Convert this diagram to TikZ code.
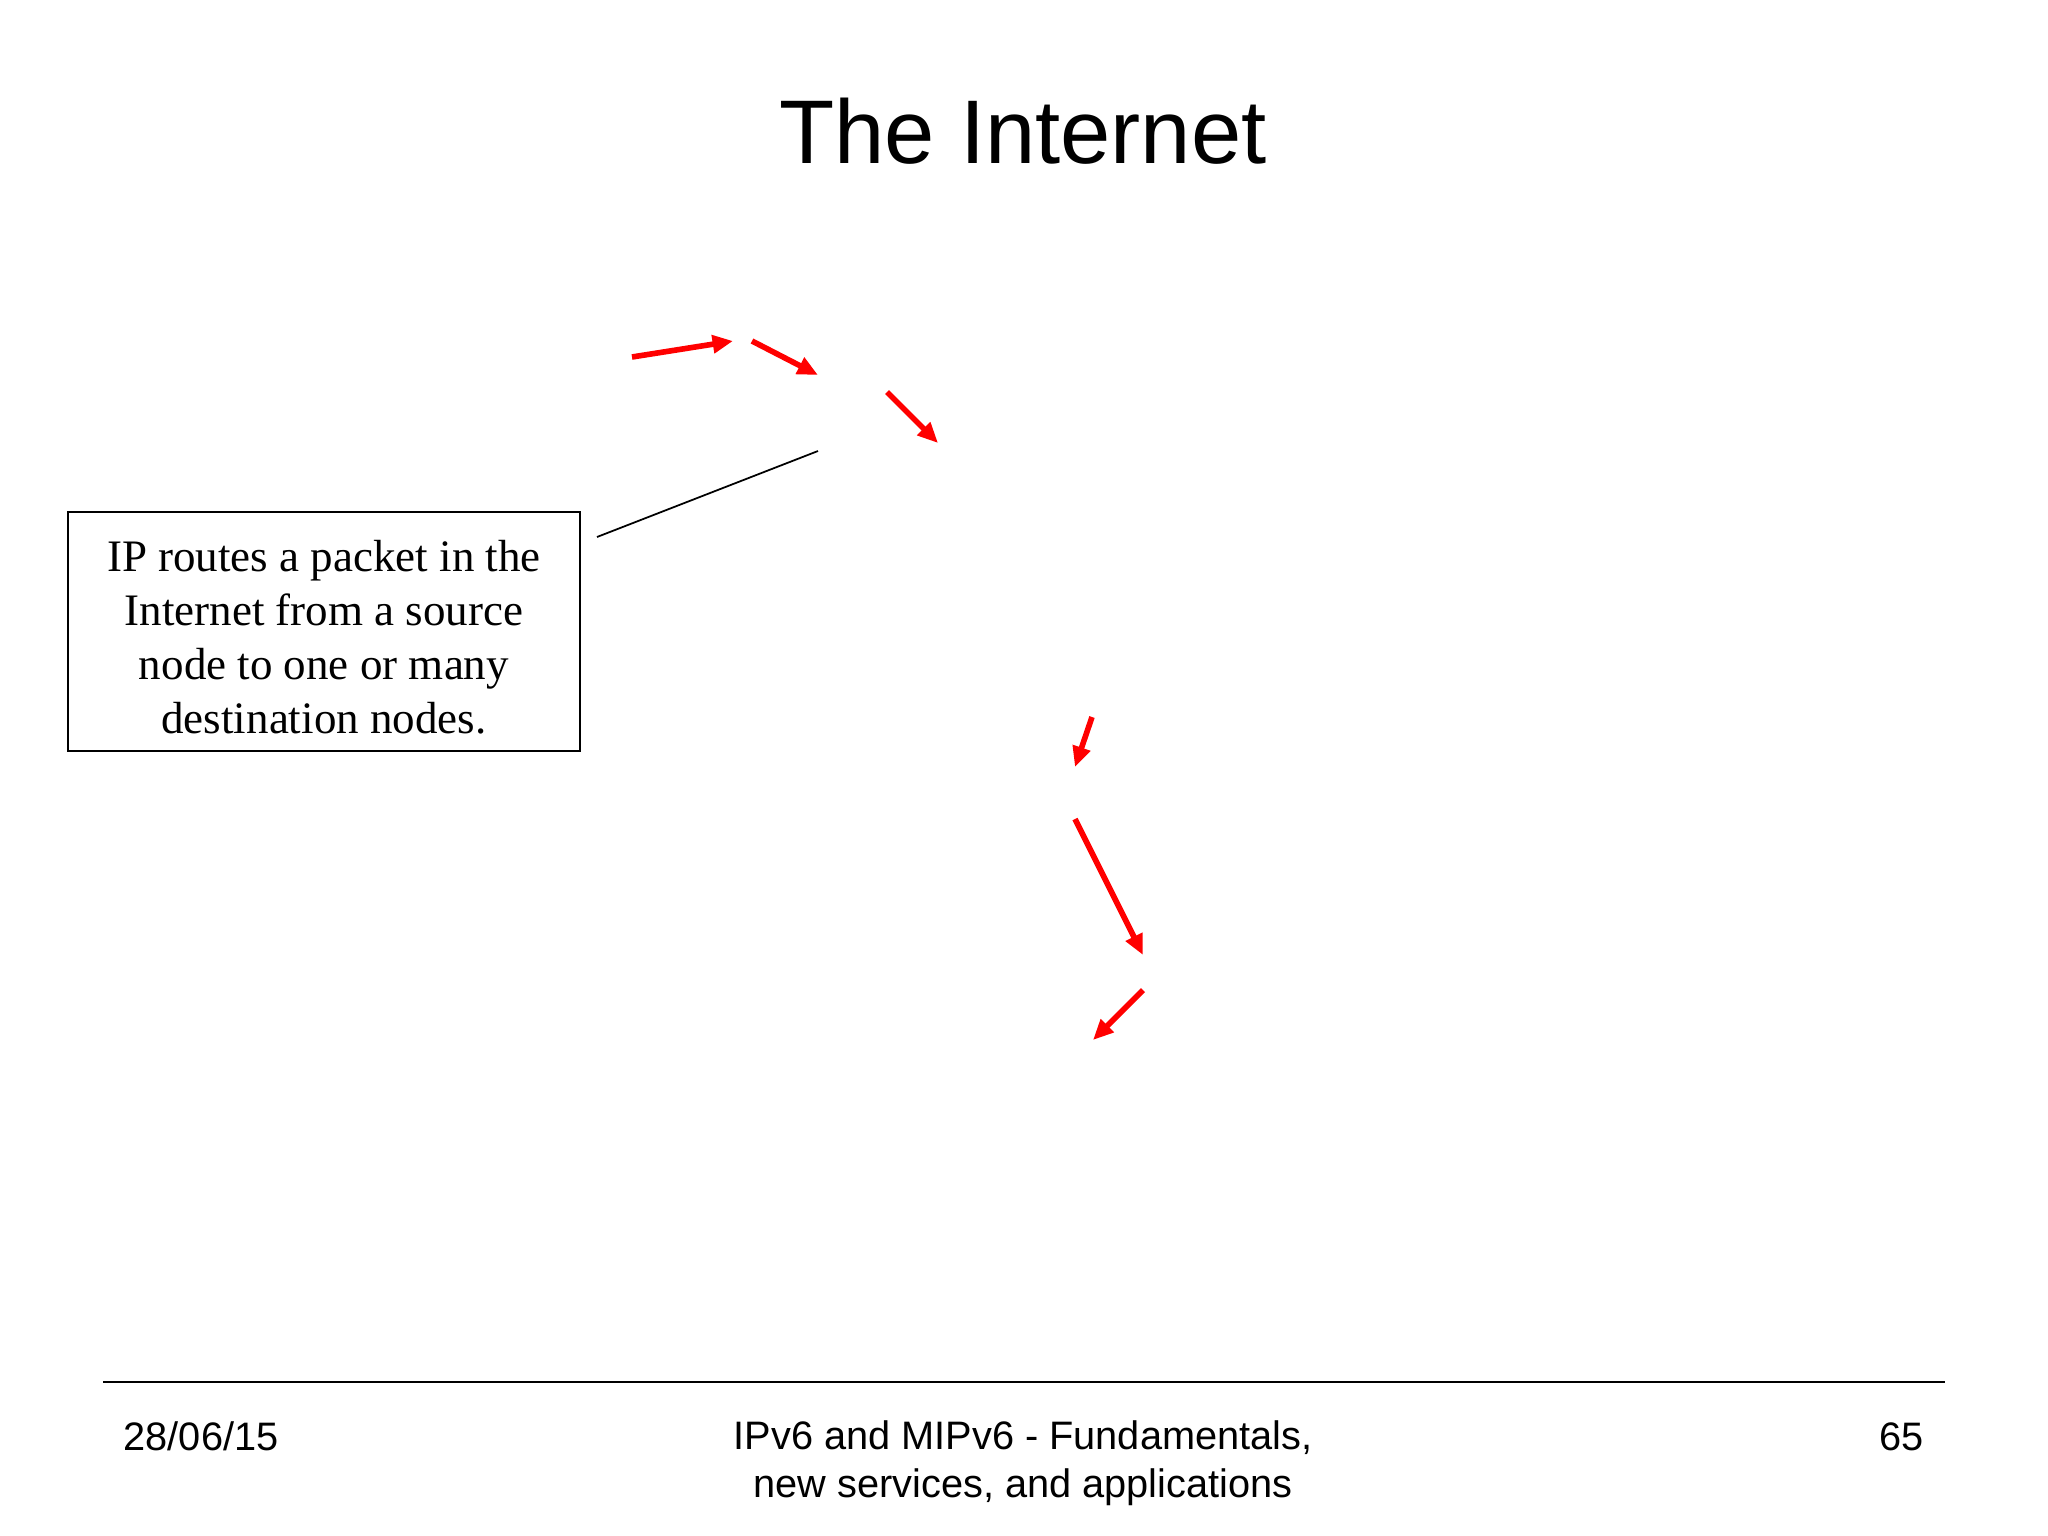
\documentclass[tikz,border=0pt]{standalone}
\usepackage{fontspec}
\setmainfont{Liberation Serif}
\newfontfamily\arialfont{Liberation Sans}
\usepackage{tikz}
\usetikzlibrary{arrows.meta}

\begin{document}
\begin{tikzpicture}[x=0.01cm, y=-0.01cm]
\tikzstyle{hop}=[draw=red, line width=1.6pt, -{Triangle[length=5.8pt, width=5pt]}]
\tikzstyle{notebox}=[draw, line width=0.6pt, minimum width=5.12cm, minimum height=2.39cm, align=center, inner sep=0pt, font=\fontsize{12.8pt}{15.4pt}\selectfont]
\tikzstyle{foot}=[font=\arialfont\fontsize{11.3pt}{13.4pt}\selectfont, inner sep=0pt]
\useasboundingbox (0,0) rectangle (2048,1536);

\node[font=\arialfont\fontsize{25.7pt}{30pt}\selectfont, anchor=base, inner sep=0pt] (title) at (1023,163) {The Internet};

\node[notebox] (note) at (324,631.5) {\rule{0pt}{12pt}IP routes a packet in the\\Internet from a source\\node to one or many\\destination nodes.};
\coordinate (callin) at (597,537);
\coordinate (callout) at (818,451);

% packet path
\coordinate (p1) at (632,357);
\coordinate (p2) at (733,341);
\coordinate (p3) at (752,341);
\coordinate (p4) at (818,375);
\coordinate (p5) at (887,392);
\coordinate (p6) at (938,443);
\coordinate (p7) at (1092,717);
\coordinate (p8) at (1075,767);
\coordinate (p9) at (1075,819);
\coordinate (p10) at (1143,955);
\coordinate (p11) at (1143,990);
\coordinate (p12) at (1093,1040);

\path (p1) edge[hop] (p2)
    (p3) edge[hop] (p4)
    (p5) edge[hop] (p6)
    (p7) edge[hop] (p8)
    (p9) edge[hop] (p10)
    (p11) edge[hop] (p12);

\draw[line width=0.5pt] (callin) -- (callout);

% footer
\coordinate (ruleL) at (103,1382);
\coordinate (ruleR) at (1945,1382);
\draw[line width=0.7pt] (ruleL) -- (ruleR);
\node[foot, anchor=base west] (date) at (123,1450) {28/06/15};
\node[foot, anchor=base, align=center] (course) at (1023,1497) {IPv6 and MIPv6 - Fundamentals,\\new services, and applications};
\node[foot, anchor=base east] (page) at (1924,1450) {65};

\end{tikzpicture}
\end{document}
